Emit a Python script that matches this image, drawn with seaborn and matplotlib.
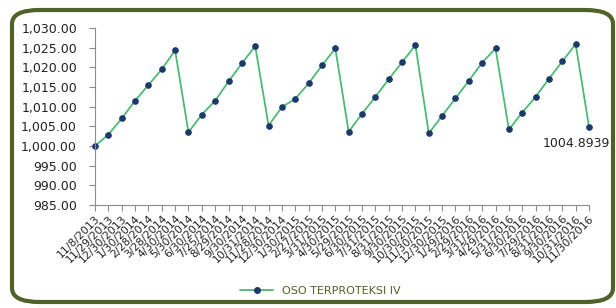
import matplotlib
matplotlib.use("Agg")
import matplotlib.pyplot as plt
from matplotlib.patches import FancyBboxPatch
from matplotlib.lines import Line2D
import seaborn as sns
import pandas as pd

dates = ["11/8/2013", "11/29/2013", "12/30/2013", "1/30/2014", "2/28/2014", "3/28/2014",
         "4/30/2014", "5/30/2014", "6/30/2014", "7/25/2014", "8/29/2014", "9/30/2014",
         "10/31/2014", "11/28/2014", "12/30/2014", "1/30/2015", "2/27/2015", "3/31/2015",
         "4/30/2015", "5/29/2015", "6/30/2015", "7/31/2015", "8/31/2015", "9/30/2015",
         "10/30/2015", "11/30/2015", "12/30/2015", "1/29/2016", "2/29/2016", "3/31/2016",
         "4/29/2016", "5/31/2016", "6/30/2016", "7/29/2016", "8/31/2016", "9/30/2016",
         "10/31/2016", "11/30/2016"]
values = [1000.0, 1002.9, 1007.0, 1011.5, 1015.5, 1019.5, 1024.3,
          1003.5, 1008.0, 1011.5, 1016.4, 1021.0, 1025.4,
          1005.2, 1009.9, 1012.0, 1015.9, 1020.5, 1024.8,
          1003.6, 1008.2, 1012.5, 1017.0, 1021.3, 1025.6,
          1003.2, 1007.7, 1012.1, 1016.6, 1021.2, 1024.8,
          1004.2, 1008.5, 1012.5, 1017.1, 1021.5, 1025.9,
          1004.8939]
series_name = "OSO TERPROTEKSI IV"
last_label = "1004.8939"
yticks = [985, 990, 995, 1000, 1005, 1010, 1015, 1020, 1025, 1030]

df = pd.DataFrame({"idx": range(len(dates)), "date": dates, "value": values})

sns.set_theme(style="white")
plt.rcParams["font.family"] = ["DejaVu Sans"]

fig = plt.figure(figsize=(6.16, 3.08), dpi=100)
fig.patch.set_facecolor("white")

border_col = "#4F6228"
box = FancyBboxPatch((12 / 616, 6 / 308), (613 - 12) / 616, (298 - 6) / 308,
                     boxstyle="round,pad=0,rounding_size=0.045",
                     transform=fig.transFigure, facecolor="none",
                     edgecolor=border_col, linewidth=3.0, zorder=5)
fig.patches.append(box)

ax = fig.add_axes([95 / 616, 1 - 205 / 308, (589 - 95) / 616, (205 - 28) / 308])
ax.set_facecolor("none")

line_col = "#4DBA73"
mark_col = "#1B3A6B"
sns.lineplot(data=df, x="idx", y="value", ax=ax, color=line_col, linewidth=1.3,
             marker="o", markersize=4, markerfacecolor=mark_col,
             markeredgecolor=mark_col, legend=False, clip_on=False)

ax.set_xlim(0, len(dates) - 1)
ax.set_ylim(985, 1030)
ax.set_yticks(yticks)
ax.set_yticklabels([f"{v:,.2f}" for v in yticks], fontsize=9, color="#222222")
ax.set_xticks(range(len(dates)))
ax.set_xticklabels(dates, rotation=45, ha="right", rotation_mode="anchor",
                   fontsize=7.8, color="#222222")
ax.set_xlabel("")
ax.set_ylabel("")

for s in ["top", "right"]:
    ax.spines[s].set_visible(False)
for s in ["left", "bottom"]:
    ax.spines[s].set_color("#8C8C8C")
    ax.spines[s].set_linewidth(0.8)
ax.tick_params(axis="both", which="both", direction="out", length=4, width=0.8,
               color="#8C8C8C", left=True, bottom=True)
ax.tick_params(axis="y", pad=9)
ax.tick_params(axis="x", pad=2)

ax.annotate(last_label, xy=(len(dates) - 1, values[-1]), xytext=(-9, -12),
            textcoords="offset points", ha="center", va="center",
            fontsize=9, color="#222222")

handle = Line2D([0], [0], color=line_col, linewidth=1.3, marker="o", markersize=4,
                markerfacecolor=mark_col, markeredgecolor=mark_col)
leg = fig.legend([handle], [series_name], loc="center", bbox_to_anchor=(0.52, 1 - 291 / 308),
                 frameon=False, fontsize=8, handlelength=3)
for t in leg.get_texts():
    t.set_color(border_col)

fig.savefig("out.png", dpi=100, facecolor="white")
